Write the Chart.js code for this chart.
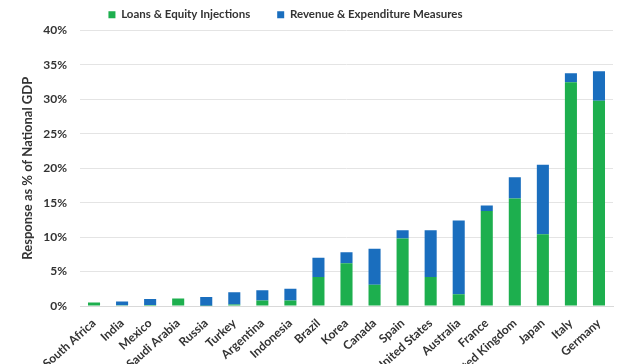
<!DOCTYPE html>
<html>
<head>
<meta charset="utf-8">
<script src="https://cdn.jsdelivr.net/npm/chart.js@4"></script>
<style>
  html, body { margin: 0; padding: 0; background: #fff; }
  #wrap { width: 640px; height: 364px; position: relative; }
</style>
</head>
<body>
<div id="wrap"><canvas id="myChart"></canvas></div>
<script>
// countries, sorted by total response
var countries = ['South Africa', 'India', 'Mexico', 'Saudi Arabia', 'Russia', 'Turkey', 'Argentina',
    'Indonesia', 'Brazil', 'Korea', 'Canada', 'Spain', 'United States', 'Australia', 'France',
    'United Kingdom', 'Japan', 'Italy', 'Germany'];
// % of national GDP
var loansEquity = [0.5, 0.1, 0.15, 1.1, 0.05, 0.2, 0.8, 0.8, 4.2, 6.2, 3.1, 9.8, 4.2, 1.7, 13.8, 15.6, 10.4, 32.5, 29.8];
var revenueExpenditure = [0, 0.55, 0.85, 0, 1.25, 1.8, 1.5, 1.7, 2.8, 1.6, 5.2, 1.2, 6.8, 10.7, 0.8, 3.1, 10.1, 1.3, 4.3];
var yTicks = [0, 5, 10, 15, 20, 25, 30, 35, 40];

var green = '#1daf4e';
var blue = '#1a6ebe';
var textColor = '#333333';
var fontFamily = 'Lato, "Open Sans", sans-serif';

// the legend in the original sits a little left of centre
var legendShift = {
    id: 'legendShift',
    afterLayout: function (chart) {
        if (chart.legend) {
            chart.legend.left -= 21;
            chart.legend.right -= 21;
        }
    }
};

window.onload = function () {
    var ctx = document.getElementById('myChart').getContext('2d');
    var config = {
        type: 'bar',
        data: {
            labels: countries,
            datasets: [{
                label: 'Loans & Equity Injections',
                data: loansEquity,
                backgroundColor: green
            }, {
                label: 'Revenue & Expenditure Measures',
                data: revenueExpenditure,
                backgroundColor: blue
            }]
        },
        plugins: [legendShift],
        options: {
            responsive: true,
            maintainAspectRatio: false,
            animation: false,
            layout: {
                padding: { top: -18, right: 27, left: 0, bottom: 0 }
            },
            datasets: {
                bar: { barPercentage: 0.43, categoryPercentage: 1 }
            },
            plugins: {
                legend: {
                    position: 'top',
                    labels: {
                        boxWidth: 7,
                        boxHeight: 7,
                        padding: 27,
                        color: textColor,
                        font: { family: fontFamily, size: 11.5, weight: 'bold' }
                    }
                },
                tooltip: { enabled: false }
            },
            scales: {
                x: {
                    stacked: true,
                    grid: { display: false },
                    border: { color: '#d9d9d9' },
                    ticks: {
                        color: textColor,
                        autoSkip: false,
                        maxRotation: 42,
                        minRotation: 42,
                        padding: 2,
                        font: { family: fontFamily, size: 12, weight: 'bold' }
                    },
                    afterFit: function (scale) { scale.height = 58; }
                },
                y: {
                    stacked: true,
                    min: 0,
                    max: 40,
                    afterBuildTicks: function (scale) {
                        scale.ticks = yTicks.map(function (v) { return { value: v }; });
                    },
                    afterFit: function (scale) { scale.width = 80; },
                    grid: { color: '#e4e4e4', drawTicks: false },
                    border: { display: false },
                    ticks: {
                        color: textColor,
                        padding: 13,
                        font: { family: fontFamily, size: 12, weight: 'bold' },
                        callback: function (v) { return v + '%'; }
                    },
                    title: {
                        display: true,
                        text: 'Response as % of National GDP',
                        color: textColor,
                        padding: { top: 20, bottom: 0 },
                        font: { family: fontFamily, size: 13, weight: 'bold' }
                    }
                }
            }
        }
    };
    window.myBars = new Chart(ctx, config);
};
</script>
</body>
</html>
